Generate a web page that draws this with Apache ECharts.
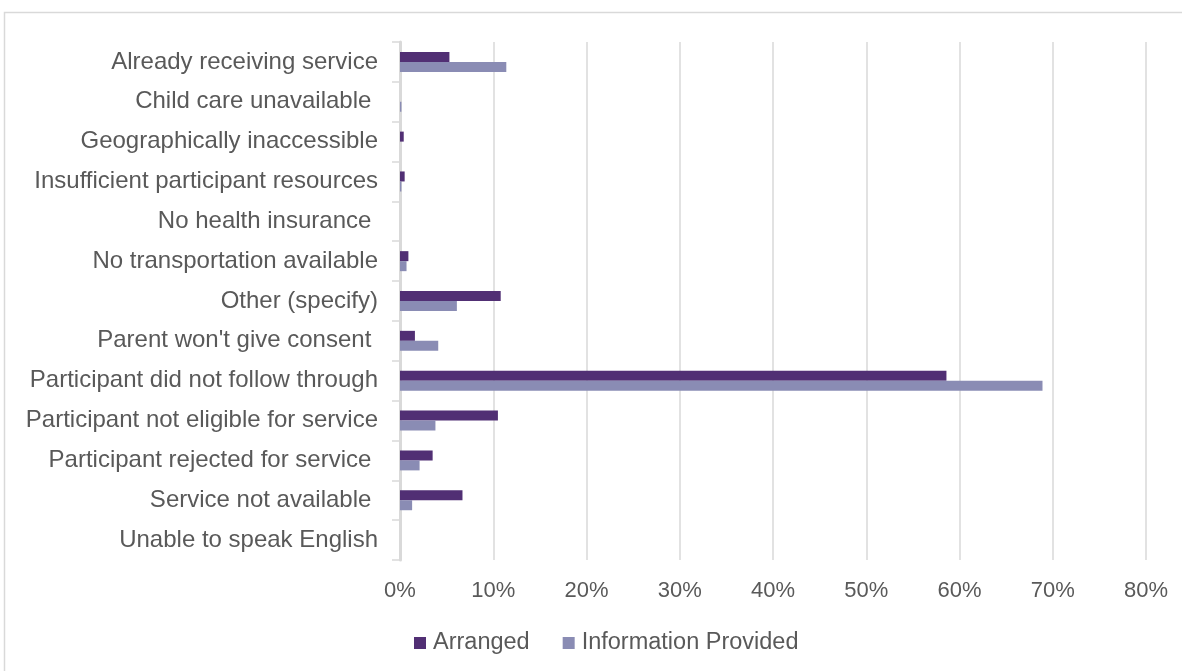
<!DOCTYPE html>
<html>
<head>
<meta charset="utf-8">
<script src="https://cdn.jsdelivr.net/npm/echarts@6/dist/echarts.min.js"></script>
<style>
  html, body { margin: 0; padding: 0; background: #ffffff; }
  #chart { width: 1182px; height: 671px; }
</style>
</head>
<body>
<div id="chart"></div>
<script>
// Reasons referrals were not completed, by outcome type (percent of cases)
const categories = [
  'Already receiving service',
  'Child care unavailable ',
  'Geographically inaccessible',
  'Insufficient participant resources',
  'No health insurance ',
  'No transportation available',
  'Other (specify)',
  "Parent won't give consent ",
  'Participant did not follow through',
  'Participant not eligible for service',
  'Participant rejected for service ',
  'Service not available ',
  'Unable to speak English'
];
const arranged = [5.3, 0, 0.4, 0.5, 0, 0.9, 10.8, 1.6, 58.6, 10.5, 3.5, 6.7, 0];
const infoProvided = [11.4, 0.15, 0, 0.15, 0, 0.7, 6.1, 4.1, 68.9, 3.8, 2.1, 1.3, 0];
const xTicks = { min: 0, max: 80, step: 10 };

const textColor = '#595959';
const lineColor = '#d9d9d9';
const fontFamily = '"Liberation Sans", Arial, sans-serif';

const chart = echarts.init(document.getElementById('chart'), null, { renderer: 'canvas' });
chart.setOption({
  animation: false,
  textStyle: { fontFamily: fontFamily },
  graphic: [{
    type: 'rect',
    shape: { x: 4.5, y: 12.5, width: 1200, height: 700 },
    style: { fill: 'none', stroke: lineColor, lineWidth: 1.5 },
    silent: true
  }],
  grid: { left: 400, right: 36, top: 42, bottom: 111, containLabel: false },
  legend: {
    bottom: 11,
    left: 409,
    icon: 'rect',
    itemWidth: 12,
    itemHeight: 12,
    itemGap: 33,
    textStyle: { color: textColor, fontSize: 23.5, fontFamily: fontFamily, padding: [0, 0, 0, 2] },
    data: ['Arranged', 'Information Provided']
  },
  xAxis: {
    type: 'value',
    min: xTicks.min,
    max: xTicks.max,
    interval: xTicks.step,
    axisLine: { show: false },
    axisTick: { show: false },
    splitLine: { lineStyle: { color: lineColor, width: 1.5 } },
    axisLabel: { formatter: '{value}%', color: textColor, fontSize: 22, margin: 20, fontFamily: fontFamily }
  },
  yAxis: {
    type: 'category',
    inverse: true,
    data: categories,
    axisLine: { lineStyle: { color: lineColor, width: 3 } },
    axisTick: { show: true, length: 8, lineStyle: { color: lineColor, width: 1.5 } },
    axisLabel: { color: textColor, fontSize: 24, margin: 22, padding: [4, 0, 0, 0], fontFamily: fontFamily }
  },
  series: [
    {
      name: 'Arranged',
      type: 'bar',
      data: arranged,
      barWidth: 10,
      barGap: '0%',
      itemStyle: { color: '#512f74' }
    },
    {
      name: 'Information Provided',
      type: 'bar',
      data: infoProvided,
      barWidth: 10,
      barGap: '0%',
      itemStyle: { color: '#8a8cb4' }
    }
  ]
});
</script>
</body>
</html>
